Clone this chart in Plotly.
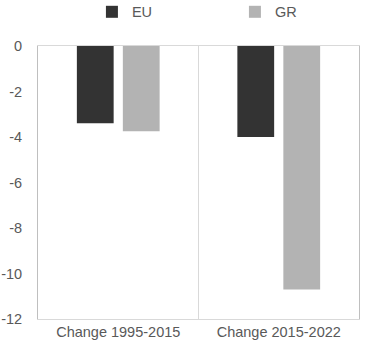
import plotly.graph_objects as go

categories = ["Change 1995-2015", "Change 2015-2022"]
eu_values = [-3.4, -4.0]
gr_values = [-3.75, -10.7]
y_ticks = [0, -2, -4, -6, -8, -10, -12]

fig = go.Figure()
fig.add_trace(go.Bar(name="EU", x=categories, y=eu_values, marker=dict(color="#333333", line=dict(width=0))))
fig.add_trace(go.Bar(name="GR", x=categories, y=gr_values, marker=dict(color="#b3b3b3", line=dict(width=0))))

fig.add_shape(type="line", xref="x", yref="y", x0=0.5, x1=0.5, y0=0, y1=-12,
              line=dict(color="#d9d9d9", width=1))

font = dict(family="Liberation Sans, Arial, sans-serif", size=14.5, color="#595959")
fig.update_layout(
    width=379, height=353,
    margin=dict(l=38, r=20, t=46, b=34, autoexpand=False),
    paper_bgcolor="white", plot_bgcolor="white",
    barmode="group", bargap=0.427, bargroupgap=0.2,
    font=font,
    showlegend=True,
    legend=dict(orientation="h", x=0.168, xanchor="left", y=1.125, yanchor="middle",
                entrywidth=98, font=font, itemclick=False),
    xaxis=dict(showline=True, mirror=True, linecolor="#d9d9d9", linewidth=1,
               showgrid=False, ticks="", tickfont=font, range=[-0.5, 1.5],
               automargin=False),
    yaxis=dict(range=[-12, 0], tickvals=y_ticks, ticktext=[str(v) for v in y_ticks],
               showline=True, mirror=True, linecolor="#bfbfbf", linewidth=1,
               showgrid=False, zeroline=False, ticks="", tickfont=font,
               ticklabelstandoff=12, automargin=False),
)
fig.write_html("out.html")
